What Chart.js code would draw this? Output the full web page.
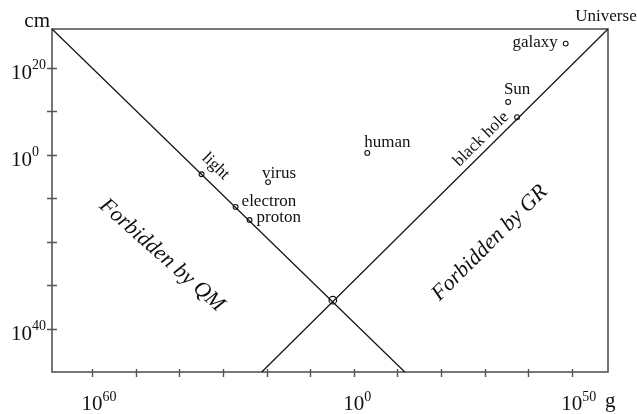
<!DOCTYPE html>
<html>
<head>
<meta charset="utf-8">
<script src="https://cdn.jsdelivr.net/npm/chart.js@4"></script>
<style>
  html, body { margin: 0; padding: 0; background: #fff; }
  #wrap { width: 637px; height: 414px; position: relative; }
</style>
</head>
<body>
<div id="wrap"><canvas id="chart"></canvas></div>
<script>
// all values are log10: mass in g (x), size in cm (y)
const xMin = -69.2;
const xMax = 58.3;
const yMin = -49.9;
const yMax = 28.85;

const xTicks = [-60, -50, -40, -30, -20, -10, 0, 10, 20, 30, 40, 50];
const yTicks = [20, 10, 0, -10, -20, -30, -40];
// labelled ticks, text as printed in the figure
const xTickLabelValues = [-60, 0, 50];
const xTickLabelTexts = ["60", "0", "50"];
const yTickLabelValues = [20, 0, -40];
const yTickLabelTexts = ["20", "0", "40"];

// boundary lines
const qmLineX = [-69.2, 11.7];
const qmLineY = [28.85, -49.9];
const grLineX = [-21.1, 58.3];
const grLineY = [-49.9, 28.85];

// objects
const objectNames = ["light", "electron", "proton", "virus", "human", "black hole", "Sun", "galaxy"];
const objectMass = [-34.9, -27.1, -23.9, -19.65, 3.1, 37.45, 35.4, 48.6];
const objectSize = [-4.5, -12.0, -15.0, -6.3, 0.4, 8.6, 12.1, 25.5];

const planckMass = -4.8;
const planckSize = -33.4;

const universeMass = 58.3;
const universeSize = 28.85;

const regionNames = ["Forbidden by QM", "Forbidden by GR"];
const regionMass = [-44.0, 31.2];
const regionSize = [-23.1, -20.3];

// label placement (pixel offsets from the point, alignment, rotation in degrees)
const labelStyle = {
  "light": { dx: 14, dy: -8, align: "center", rot: 44 },
  "electron": { dx: 6, dy: -5, align: "left", rot: 0 },
  "proton": { dx: 7, dy: -2, align: "left", rot: 0 },
  "virus": { dx: -6, dy: -9, align: "left", rot: 0 },
  "human": { dx: -3, dy: -10, align: "left", rot: 0 },
  "black hole": { dx: -36, dy: 22, align: "center", rot: -44.5 },
  "Sun": { dx: 9, dy: -12, align: "center", rot: 0 },
  "galaxy": { dx: -8, dy: -1, align: "right", rot: 0 },
};
const regionRot = [41.5, -45];

const SERIF = '"Liberation Serif", "Times New Roman", serif';
const AXIS_COLOR = "#555";
const INK = "#111";

const toPoints = (xs, ys) => xs.map((x, i) => ({ x, y: ys[i] }));

const decorPlugin = {
  id: "decor",
  beforeDatasetsDraw(chart) {
    const { ctx, chartArea: a } = chart;
    ctx.save();
    ctx.strokeStyle = AXIS_COLOR;
    ctx.lineWidth = 1.6;
    ctx.strokeRect(a.left, a.top, a.right - a.left, a.bottom - a.top);
    ctx.restore();
  },
  afterDatasetsDraw(chart) {
    const { ctx, chartArea: a, scales } = chart;
    const xs = scales.x;
    const ys = scales.y;
    ctx.save();

    // tick marks crossing the axes
    ctx.strokeStyle = AXIS_COLOR;
    ctx.lineWidth = 1.4;
    ctx.beginPath();
    xTicks.forEach((v) => {
      const px = Math.round(xs.getPixelForValue(v)) + 0.5;
      ctx.moveTo(px, a.bottom - 3);
      ctx.lineTo(px, a.bottom + 5);
    });
    yTicks.forEach((v) => {
      const py = Math.round(ys.getPixelForValue(v)) + 0.5;
      ctx.moveTo(a.left - 5, py);
      ctx.lineTo(a.left + 5, py);
    });
    ctx.stroke();

    // tick labels 10^n
    ctx.fillStyle = INK;
    ctx.textBaseline = "alphabetic";
    xTickLabelValues.forEach((v, i) => {
      const px = xs.getPixelForValue(v);
      ctx.font = `21px ${SERIF}`;
      ctx.textAlign = "center";
      ctx.fillText("10", px, 410);
      const w = ctx.measureText("10").width;
      ctx.font = `14px ${SERIF}`;
      ctx.textAlign = "left";
      ctx.fillText(xTickLabelTexts[i], px + w / 2, 401);
    });
    yTickLabelValues.forEach((v, i) => {
      const py = ys.getPixelForValue(v);
      ctx.font = `21px ${SERIF}`;
      ctx.textAlign = "left";
      ctx.fillText("10", 11, py + 11);
      const w = ctx.measureText("10").width;
      ctx.font = `14px ${SERIF}`;
      ctx.fillText(yTickLabelTexts[i], 11 + w, py + 1);
    });

    // axis units
    ctx.font = `21px ${SERIF}`;
    ctx.textAlign = "right";
    ctx.fillText("cm", 50, 27);
    ctx.textAlign = "left";
    ctx.fillText("g", 605, 407);

    // object labels
    ctx.font = `17px ${SERIF}`;
    ctx.textBaseline = "middle";
    objectNames.forEach((name, i) => {
      const s = labelStyle[name];
      const px = xs.getPixelForValue(objectMass[i]) + s.dx;
      const py = ys.getPixelForValue(objectSize[i]) + s.dy;
      ctx.save();
      ctx.translate(px, py);
      ctx.rotate((s.rot * Math.PI) / 180);
      ctx.textAlign = s.align;
      ctx.fillText(name, 0, 0);
      ctx.restore();
    });
    ctx.textAlign = "center";
    ctx.fillText("Universe", xs.getPixelForValue(universeMass) - 2, ys.getPixelForValue(universeSize) - 12);

    // forbidden regions
    ctx.font = `italic 22px ${SERIF}`;
    regionNames.forEach((name, i) => {
      ctx.save();
      ctx.translate(xs.getPixelForValue(regionMass[i]), ys.getPixelForValue(regionSize[i]));
      ctx.rotate((regionRot[i] * Math.PI) / 180);
      ctx.textAlign = "center";
      ctx.fillText(name, 0, 0);
      ctx.restore();
    });

    ctx.restore();
  },
};

const chart = new Chart(document.getElementById("chart"), {
  type: "scatter",
  data: {
    datasets: [
      {
        label: "QM limit",
        data: toPoints(qmLineX, qmLineY),
        showLine: true,
        borderColor: INK,
        borderWidth: 1.2,
        pointRadius: 0,
      },
      {
        label: "GR limit",
        data: toPoints(grLineX, grLineY),
        showLine: true,
        borderColor: INK,
        borderWidth: 1.2,
        pointRadius: 0,
      },
      {
        label: "objects",
        data: toPoints(objectMass, objectSize),
        pointRadius: 2.4,
        pointBorderWidth: 1.1,
        pointBackgroundColor: "#fff",
        pointBorderColor: INK,
      },
      {
        label: "Planck",
        data: [{ x: planckMass, y: planckSize }],
        pointRadius: 3.8,
        pointBorderWidth: 1.2,
        pointBackgroundColor: "rgba(255,255,255,0)",
        pointBorderColor: INK,
      },
    ],
  },
  options: {
    responsive: true,
    maintainAspectRatio: false,
    animation: false,
    clip: false,
    layout: { padding: { left: 52, right: 29, top: 29, bottom: 42 } },
    plugins: { legend: { display: false }, tooltip: { enabled: false } },
    scales: {
      x: { type: "linear", min: xMin, max: xMax, display: false },
      y: { type: "linear", min: yMin, max: yMax, display: false },
    },
  },
  plugins: [decorPlugin],
});
</script>
</body>
</html>
